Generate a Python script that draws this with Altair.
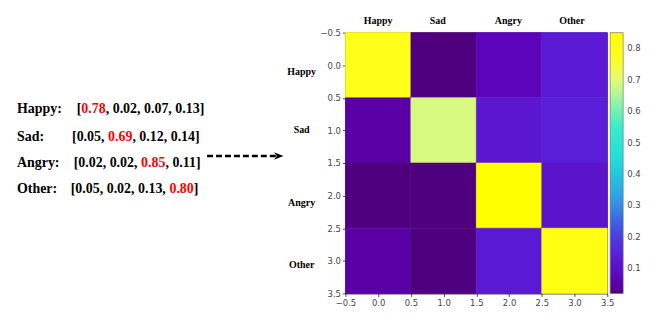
import altair as alt
import pandas as pd

emotions = ["Happy", "Sad", "Angry", "Other"]
matrix = [
    [0.78, 0.02, 0.07, 0.13],
    [0.05, 0.69, 0.12, 0.14],
    [0.02, 0.02, 0.85, 0.11],
    [0.05, 0.02, 0.13, 0.80],
]
ticks = [-0.5, 0.0, 0.5, 1.0, 1.5, 2.0, 2.5, 3.0, 3.5]
cbar_ticks = [0.1, 0.2, 0.3, 0.4, 0.5, 0.6, 0.7, 0.8]
cmap_stops = [0.02, 0.06, 0.14, 0.22, 0.32, 0.44, 0.56, 0.65, 0.70, 0.76, 0.85]
cmap_colors = ["#4f007e", "#5c00b4", "#5a1ed8", "#4648e0", "#2e9ee6", "#1fdcdc",
               "#3cf0c8", "#b0f49a", "#e2fa78", "#ffff20", "#ffff00"]
# label placements (data units)
col_label_pos = [0.0, 0.91, 1.99, 2.96]
row_label_pos = [0.1, 1.0, 2.11, 3.06]

# layout of the left-hand text (pixels relative to plot area)
FS = 14
text_rows_y = [77, 105, 131, 157]
bracket_x = [-270, -274.7, -273, -276]
label_x = -330

W = {".": 0.25, ",": 0.25, " ": 0.25, "[": 0.333, "]": 0.333}
def tw(s):
    return sum(W.get(c, 0.5) for c in s) * FS

cells = []
for r, row in enumerate(matrix):
    for c, v in enumerate(row):
        cells.append({"row": emotions[r], "col": emotions[c], "x": c - 0.5, "x2": c + 0.5,
                      "y": r - 0.5, "y2": r + 0.5, "v": v})
cells = pd.DataFrame(cells)

tokens = []
for r, row in enumerate(matrix):
    strs = [f"{v:.2f}" for v in row]
    prefix = "[" + "".join(s + ", " for s in strs[:r])
    red = strs[r]
    suffix = "".join(", " + s for s in strs[r + 1:]) + "]"
    y = text_rows_y[r]
    x0 = bracket_x[r]
    tokens.append({"t": emotions[r] + ":", "px": label_x, "py": y, "c": "black"})
    tokens.append({"t": prefix, "px": x0, "py": y, "c": "black"})
    tokens.append({"t": red, "px": x0 + tw(prefix), "py": y, "c": "red"})
    tokens.append({"t": suffix, "px": x0 + tw(prefix) + tw(red), "py": y, "c": "black"})
tokens = pd.DataFrame(tokens)

col_labels = pd.DataFrame({"lab": emotions, "pos": col_label_pos})
row_labels = pd.DataFrame({"lab": emotions, "pos": row_label_pos})

xs = alt.Scale(domain=[-0.5, 3.5], nice=False, zero=False)
ys = alt.Scale(domain=[-0.5, 3.5], nice=False, zero=False, reverse=True)

axis_common = dict(values=ticks, format=".1f", grid=False, labelFont="DejaVu Sans",
                   labelFontSize=8.5, labelColor="#444", tickColor="#444", tickSize=3,
                   domainColor="#333", domainWidth=0.8, title=None,
                   labelOverlap=False, labelFlush=False, labelBound=False)
ax_x = alt.Axis(orient="bottom", labelPadding=2, **axis_common)
ax_y = alt.Axis(orient="left", labelPadding=2, **axis_common)

cscale = alt.Scale(domain=cmap_stops, range=cmap_colors, interpolate="rgb")

heat = alt.Chart(cells).mark_rect(strokeWidth=0.6).encode(
    x=alt.X("x:Q", scale=xs, axis=ax_x),
    x2="x2:Q",
    y=alt.Y("y:Q", scale=ys, axis=ax_y),
    y2="y2:Q",
    color=alt.Color("v:Q", scale=cscale,
                    legend=alt.Legend(orient="none", legendX=266, legendY=0, title=None,
                                      direction="vertical", gradientLength=262,
                                      gradientThickness=13, values=cbar_ticks, format=".1f",
                                      labelFont="DejaVu Sans", labelFontSize=8.5,
                                      labelColor="#444", labelOffset=4, labelOverlap=False,
                                      gradientStrokeColor="#666", gradientStrokeWidth=0.6)),
    stroke=alt.Stroke("v:Q", scale=cscale, legend=None),
)

col_text = alt.Chart(col_labels).mark_text(
    font="Liberation Serif", fontWeight="bold", fontSize=10, baseline="middle", align="center"
).encode(x=alt.X("pos:Q", scale=xs, axis=ax_x), y=alt.value(-12), text="lab:N")

row_text = alt.Chart(row_labels).mark_text(
    font="Liberation Serif", fontWeight="bold", fontSize=10, baseline="middle", align="center"
).encode(y=alt.Y("pos:Q", scale=ys, axis=ax_y), x=alt.value(-44), text="lab:N")

left_text = alt.Chart(tokens).mark_text(
    font="Liberation Serif", fontWeight="bold", fontSize=FS, baseline="middle", align="left"
).encode(
    x=alt.X("px:Q", scale=None, axis=None),
    y=alt.Y("py:Q", scale=None, axis=None),
    text="t:N",
    color=alt.Color("c:N", scale=None),
)

arrow_line = alt.Chart(pd.DataFrame({"a": [0]})).mark_rule(
    color="black", strokeWidth=2.5, strokeDash=[6, 3]
).encode(x=alt.value(-139), x2=alt.value(-70), y=alt.value(124))

arrow_head = alt.Chart(pd.DataFrame({"a": [0]})).mark_point(
    shape="M-1,-0.8 L1,0 L-1,0.8 L-0.4,0 Z", filled=True, color="black", opacity=1, size=90
).encode(x=alt.value(-67), y=alt.value(124))

chart = alt.layer(heat, col_text, row_text, left_text, arrow_line, arrow_head).resolve_scale(
    color="independent"
).properties(
    width=263, height=262, autosize="none",
    padding={"left": 339, "top": 24, "right": 50, "bottom": 30},
).configure_view(stroke="#333", strokeWidth=0.8)

chart.save("out.html", embed_options={"renderer": "svg", "actions": False})
